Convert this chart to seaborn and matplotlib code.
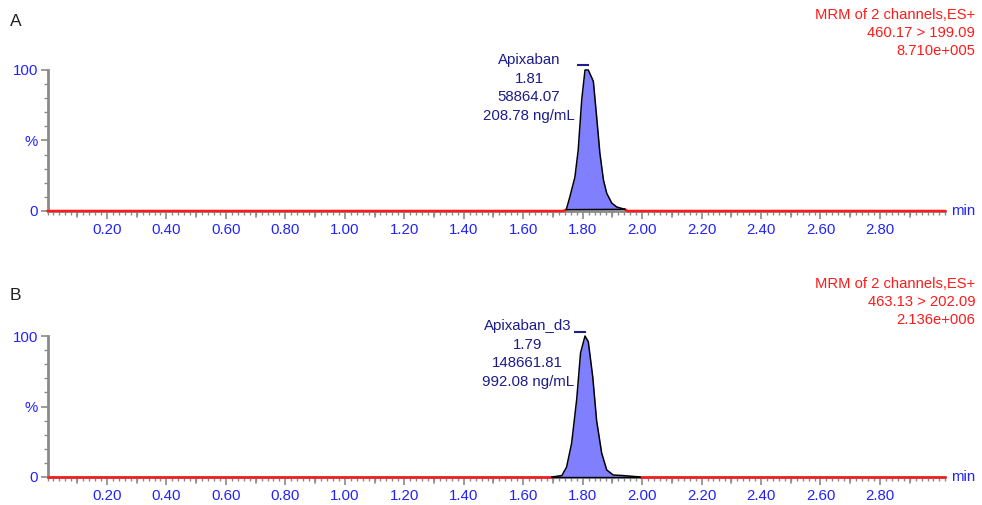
import numpy as np
import pandas as pd
import matplotlib
matplotlib.use("Agg")
import matplotlib.pyplot as plt
from matplotlib.ticker import MultipleLocator, FixedLocator
import seaborn as sns

# === data (time in min, intensity in %) ===
time_a = [0.00, 1.735, 1.745, 1.757, 1.774, 1.785, 1.797, 1.808, 1.819, 1.836, 1.847,
          1.858, 1.870, 1.881, 1.898, 1.915, 1.942, 1.950, 3.02]
inten_a = [0.0, 0.0, 1.0, 10.0, 24.0, 43.0, 79.0, 100.0, 100.0, 92.0, 67.0,
           41.0, 22.0, 12.6, 5.6, 2.8, 1.2, 0.0, 0.0]
time_b = [0.00, 1.696, 1.730, 1.746, 1.763, 1.780, 1.793, 1.808, 1.819, 1.834,
          1.847, 1.864, 1.881, 1.903, 1.937, 1.993, 3.02]
inten_b = [0.0, 0.0, 1.0, 7.0, 24.0, 55.0, 88.0, 100.0, 96.0, 71.0,
           40.0, 17.0, 5.0, 1.4, 1.0, 0.0, 0.0]

# integrated peak window (index range into the arrays above)
peak_idx_a = (2, 16)
peak_idx_b = (1, 15)

panel_letters = ["A", "B"]
header_lines = [["MRM of 2 channels,ES+", "460.17 > 199.09", "8.710e+005"],
                ["MRM of 2 channels,ES+", "463.13 > 202.09", "2.136e+006"]]
peak_labels = [["Apixaban", "1.81", "58864.07", "208.78 ng/mL"],
               ["Apixaban_d3", "1.79", "148661.81", "992.08 ng/mL"]]
apex_time = [1.801, 1.791]
label_time = [1.62, 1.615]

x_tick_labels = [f"{v:.2f}" for v in np.arange(0.2, 2.81, 0.2)]

# === style ===
sns.set_style("ticks")
plt.rcParams['font.family'] = ['Liberation Sans', 'DejaVu Sans']

BLUE = "#2222ff"
RED = "#ff1a1a"
NAVY = "#1c1c8a"
FILL = "#8080ff"
GREY = "#8a8a8a"

fig = plt.figure(figsize=(9.82, 5.05), dpi=100)
W, H = 982, 505
x0_px = 47.5
px_per_min = 297.3
xmax = 3.02

axes = []
for bottom_px in (211, 477):
    ax = fig.add_axes([x0_px / W, 1 - bottom_px / H, xmax * px_per_min / W, 141 / H])
    axes.append(ax)

data = [(time_a, inten_a, peak_idx_a), (time_b, inten_b, peak_idx_b)]

for i, ax in enumerate(axes):
    t, y, (s, e) = data[i]
    df = pd.DataFrame({"time": t, "intensity": y})

    # trace outside the peak in red
    for part in (df.iloc[:s + 1], df.iloc[e:]):
        sns.lineplot(data=part, x="time", y="intensity", ax=ax, color=RED, lw=1.8,
                     estimator=None, sort=False, clip_on=False, zorder=3)

    # integrated peak: fill + black outline + baseline
    pk = df.iloc[s:e + 1]
    base = np.interp(pk["time"], [pk["time"].iloc[0], pk["time"].iloc[-1]],
                     [pk["intensity"].iloc[0], pk["intensity"].iloc[-1]])
    ax.fill_between(pk["time"], base, pk["intensity"], color=FILL, lw=0, zorder=4)
    sns.lineplot(data=pk, x="time", y="intensity", ax=ax, color="black", lw=1.1,
                 estimator=None, sort=False, clip_on=False, zorder=5)
    ax.plot([pk["time"].iloc[0], pk["time"].iloc[-1]],
            [pk["intensity"].iloc[0], pk["intensity"].iloc[-1]],
            color="black", lw=1.0, zorder=5, clip_on=False)

    ax.set_xlim(0, xmax)
    ax.set_ylim(0, 100)
    ax.set_xlabel("")
    ax.set_ylabel("")

    # axes look
    sns.despine(ax=ax)
    for sp in ("left", "bottom"):
        ax.spines[sp].set_color(GREY)
        ax.spines[sp].set_linewidth(2)
    ax.xaxis.set_major_locator(FixedLocator(np.arange(0.2, 2.81, 0.2)))
    ax.set_xticklabels(x_tick_labels)
    ax.xaxis.set_minor_locator(MultipleLocator(0.02))
    ax.set_yticks([0, 50, 100])
    ax.set_yticklabels(["0", "%", "100"])
    ax.yaxis.set_minor_locator(MultipleLocator(10))
    ax.tick_params(axis="x", which="major", length=6, width=1.2, color=GREY,
                   labelcolor=BLUE, labelsize=10.8, pad=3)
    ax.tick_params(axis="x", which="minor", length=3, width=1, color=GREY)
    ax.tick_params(axis="y", which="major", length=5, width=1.2, color=GREY,
                   labelcolor=BLUE, labelsize=10.8, pad=2)
    ax.tick_params(axis="y", which="minor", length=3, width=1, color=GREY)
    # extra longer ticks every 0.1 without labels
    for v in np.arange(0.1, 2.95, 0.2):
        ax.plot([v, v], [0, -4.3], color=GREY, lw=1.2, clip_on=False, zorder=1)

    ax.text(1.006, 0, "min", transform=ax.transAxes, color=BLUE, fontsize=10.8,
            ha="left", va="center")

    # peak annotation
    ax.plot(apex_time[i], 103.5 if i == 0 else 102.5, marker="_", ms=9, mew=1.5,
            color=NAVY, clip_on=False)
    for j, line in enumerate(peak_labels[i]):
        ax.text(label_time[i], 107.2 - j * 13.3, line, color=NAVY, fontsize=10.8,
                ha="center", va="center", clip_on=False)

# panel letters and headers
for i, top_px in enumerate((22, 296)):
    fig.text(10 / W, 1 - top_px / H, panel_letters[i], fontsize=12.5,
             color="#222222", ha="left", va="center")
for i, first_px in enumerate((15, 284)):
    for j, line in enumerate(header_lines[i]):
        fig.text(975 / W, 1 - (first_px + j * 18) / H, line, color=RED,
                 fontsize=10.6, ha="right", va="center")

fig.savefig("out.png", dpi=100)
